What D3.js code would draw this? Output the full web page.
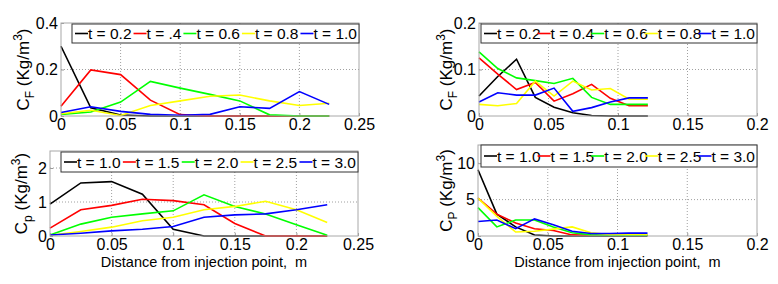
<!DOCTYPE html>
<html>
<head>
<meta charset="utf-8">
<script src="https://cdn.jsdelivr.net/npm/d3@7"></script>
<style>
  body { margin: 0; background: #fff; }
  text { font-family: "Liberation Sans", Arial, sans-serif; fill: #000; }
</style>
</head>
<body>
<div id="chart"></div>
<script>
// distances (m)
const xLong  = [0, 0.025, 0.05, 0.075, 0.1, 0.125, 0.15, 0.175, 0.2, 0.225];
const xShort = [0, 0.0135, 0.027, 0.0405, 0.054, 0.0675, 0.081, 0.0945, 0.108, 0.1215];

const colors = ['#000000', '#ff0000', '#00ff00', '#ffff00', '#0000ff'];

// top-left: C_F
const labelsTL = ['t = 0.2', 't = .4', 't = 0.6', 't = 0.8', 't = 1.0'];
const cfLeft = [
  [0.30, 0.035, 0.004, 0, 0, 0, 0, 0, 0, 0],
  [0.042, 0.198, 0.178, 0.068, 0.006, 0, 0, 0, 0, 0],
  [0.007, 0.017, 0.06, 0.149, 0.12, 0.093, 0.065, 0.005, 0, 0],
  [0.01, 0.025, 0.002, 0.045, 0.065, 0.085, 0.09, 0.065, 0.045, 0.055],
  [0.015, 0.04, 0.02, 0.007, 0.003, 0.007, 0.04, 0.033, 0.105, 0.05]
];

// top-right: C_F
const labelsTR = ['t = 0.2', 't = 0.4', 't = 0.6', 't = 0.8', 't = 1.0'];
const cfRight = [
  [0.043, 0.085, 0.122, 0.04, 0.019, 0.007, 0.001, 0, 0, 0],
  [0.125, 0.09, 0.057, 0.072, 0.032, 0.048, 0.068, 0.038, 0.022, 0.022],
  [0.138, 0.102, 0.082, 0.076, 0.07, 0.081, 0.04, 0.025, 0.025, 0.025],
  [0.025, 0.022, 0.027, 0.075, 0.043, 0.075, 0.056, 0.059, 0.036, 0.036],
  [0.03, 0.05, 0.045, 0.045, 0.06, 0.01, 0.018, 0.03, 0.039, 0.039]
];

// bottom-left: C_p
const labelsBL = ['t = 1.0', 't = 1.5', 't = 2.0', 't = 2.5', 't = 3.0'];
const cpLeft = [
  [0.94, 1.56, 1.6, 1.23, 0.2, 0, 0, 0, 0, 0],
  [0.23, 0.77, 0.9, 1.08, 1.04, 0.92, 0.37, 0, 0, 0],
  [0.03, 0.35, 0.55, 0.65, 0.74, 1.21, 0.87, 0.65, 0.33, 0.02],
  [0.02, 0.13, 0.26, 0.45, 0.55, 0.77, 0.87, 1.02, 0.77, 0.4],
  [0.03, 0.08, 0.15, 0.2, 0.28, 0.55, 0.62, 0.65, 0.77, 0.92]
];

// bottom-right: C_P
const labelsBR = ['t = 1.0', 't = 1.5', 't = 2.0', 't = 2.5', 't = 3.0'];
const cpRight = [
  [9.1, 3.0, 1.25, 0.13, 0, 0, 0, 0, 0, 0],
  [5.2, 3.0, 1.8, 1.0, 0.75, 0.15, 0.1, 0.1, 0.1, 0.1],
  [3.9, 1.25, 2.2, 2.2, 1.25, 0.45, 0.15, 0.1, 0.1, 0.1],
  [5.2, 2.7, 0.55, 0.65, 0.95, 1.25, 0.45, 0.2, 0.2, 0.2],
  [2.0, 2.2, 1.0, 2.35, 1.55, 0.65, 0.35, 0.35, 0.4, 0.4]
];

const xTicksLong  = [0, 0.05, 0.1, 0.15, 0.2, 0.25];
const xTicksShort = [0, 0.05, 0.1, 0.15, 0.2];

const W = 778, H = 284;
const FONT = '"Liberation Sans", Arial, sans-serif';
const svg = d3.select('#chart').append('svg')
  .attr('width', W).attr('height', H);

function panel(p) {
  const x = d3.scaleLinear().domain(p.xDomain).range([p.left, p.right]);
  const y = d3.scaleLinear().domain(p.yDomain).range([p.bottom, p.top]);
  const g = svg.append('g');

  // dotted grid
  g.selectAll('.gx').data(p.xTicks.slice(1, -1)).enter().append('line')
    .attr('x1', d => x(d)).attr('x2', d => x(d))
    .attr('y1', p.top).attr('y2', p.bottom)
    .attr('stroke', '#a0a0a0').attr('stroke-dasharray', '1,2');
  g.selectAll('.gy').data(p.yTicks.filter(d => d > p.yDomain[0] && d < p.yDomain[1])).enter().append('line')
    .attr('x1', p.left).attr('x2', p.right)
    .attr('y1', d => y(d)).attr('y2', d => y(d))
    .attr('stroke', '#a0a0a0').attr('stroke-dasharray', '1,2');

  // axes (ticks inward)
  const xa = g.append('g').attr('transform', `translate(0,${p.bottom})`)
    .call(d3.axisBottom(x).tickValues(p.xTicks).tickSize(-3).tickPadding(3).tickFormat(d3.format('~g')));
  const ya = g.append('g').attr('transform', `translate(${p.left},0)`)
    .call(d3.axisLeft(y).tickValues(p.yTicks).tickSize(-3).tickPadding(3).tickFormat(d3.format('~g')));
  [xa, ya].forEach(a => {
    a.select('.domain').remove();
    a.selectAll('line').attr('stroke', '#999');
    a.selectAll('text').attr('font-size', 16).attr('font-family', FONT);
  });

  // series
  const line = d3.line().x(d => x(d[0])).y(d => y(d[1]));
  p.series.forEach((s, i) => {
    g.append('path')
      .datum(p.xs.map((xv, j) => [xv, s[j]]))
      .attr('d', line)
      .attr('fill', 'none')
      .attr('stroke', colors[i])
      .attr('stroke-width', 1.6);
  });

  // frame
  g.append('rect')
    .attr('x', p.left).attr('y', p.top)
    .attr('width', p.right - p.left).attr('height', p.bottom - p.top)
    .attr('fill', 'none').attr('stroke', '#a8a8a8');

  // legend
  const lg = g.append('g');
  lg.append('rect')
    .attr('x', p.legX).attr('y', p.legY)
    .attr('width', p.right - p.legX).attr('height', p.legH)
    .attr('fill', '#fff').attr('stroke', '#333');
  const items = p.labels.map((lab, i) => {
    const it = lg.append('g');
    it.append('line').attr('x1', 0).attr('x2', 13).attr('y1', 0).attr('y2', 0)
      .attr('stroke', colors[i]).attr('stroke-width', 1.6);
    const t = it.append('text').attr('x', 13).attr('dy', '0.36em')
      .attr('font-size', 15.5).text(lab);
    return { it, w: 13 + t.node().getComputedTextLength() };
  });
  const total = d3.sum(items, d => d.w);
  const gap = ((p.right - p.legX) - 5 - total) / (items.length - 1);
  let cx = p.legX + 3;
  items.forEach(d => {
    d.it.attr('transform', `translate(${cx},${p.legY + p.legH / 2})`);
    cx += d.w + gap;
  });

  // y label
  const yl = g.append('text')
    .attr('transform', `translate(${p.ylabX},${(p.top + p.bottom) / 2}) rotate(-90)`)
    .attr('text-anchor', 'middle').attr('font-size', 17);
  yl.append('tspan').text('C');
  yl.append('tspan').attr('font-size', 12).attr('dy', 5).text(p.sub);
  yl.append('tspan').attr('dy', -5).text(' (Kg/m');
  yl.append('tspan').attr('font-size', 12).attr('dy', -7).text('3');
  yl.append('tspan').attr('dy', 7).text(')');

  if (p.xlabel) {
    g.append('text')
      .attr('x', (p.left + p.right) / 2).attr('y', p.bottom + 31)
      .attr('text-anchor', 'middle').attr('font-size', 14.5)
      .text(p.xlabel);
  }
}

const xlabel = 'Distance from injection point,\u00a0\u00a0m';

panel({ left: 61, right: 359, top: 23, bottom: 116, xDomain: [0, 0.25], yDomain: [0, 0.4],
  xTicks: xTicksLong, yTicks: [0, 0.2, 0.4], xs: xLong, series: cfLeft, labels: labelsTL,
  legX: 72, legY: 24, legH: 19, ylabX: 29, sub: 'F' });
panel({ left: 479, right: 757, top: 23, bottom: 116, xDomain: [0, 0.2], yDomain: [0, 0.2],
  xTicks: xTicksShort, yTicks: [0, 0.1, 0.2], xs: xShort, series: cfRight, labels: labelsTR,
  legX: 481, legY: 24, legH: 19, ylabX: 452, sub: 'F' });
panel({ left: 50, right: 358, top: 151, bottom: 236, xDomain: [0, 0.25], yDomain: [0, 2.5],
  xTicks: xTicksLong, yTicks: [0, 1, 2], xs: xLong, series: cpLeft, labels: labelsBL,
  legX: 61, legY: 152, legH: 20, ylabX: 27, sub: 'p', xlabel: xlabel });
panel({ left: 478, right: 757, top: 145, bottom: 236, xDomain: [0, 0.2], yDomain: [0, 12.5],
  xTicks: xTicksShort, yTicks: [0, 5, 10], xs: xShort, series: cpRight, labels: labelsBR,
  legX: 481, legY: 145, legH: 22, ylabX: 452, sub: 'P', xlabel: xlabel });
</script>
</body>
</html>
